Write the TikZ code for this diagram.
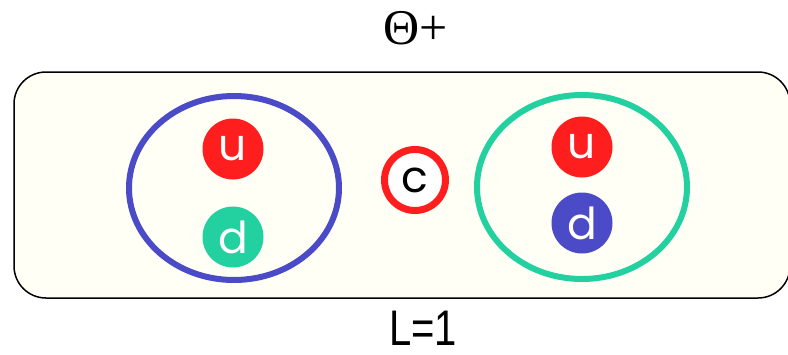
\documentclass[tikz,border=0pt]{standalone}
\usepackage{fontspec}
\usepackage{graphicx}
\usetikzlibrary{shapes.geometric, positioning}
\newfontfamily\titlefont{Liberation Serif}
\newfontfamily\labelfont{Liberation Sans}
\newfontfamily\quarkfont{Poppins}
\definecolor{qred}{RGB}{255,30,30}
\definecolor{qblue}{RGB}{75,75,200}
\definecolor{qgreen}{RGB}{34,208,160}
\definecolor{cream}{RGB}{255,255,246}

\begin{document}
\begin{tikzpicture}[
    x=1pt, y=-1pt,
    hadron/.style={
        rectangle,
        rounded corners=32pt,
        draw=black,
        line width=1.5pt,
        fill=cream,
        minimum width=776pt,
        minimum height=226pt
    },
    diquark/.style={
        ellipse,
        draw=#1,
        line width=6pt,
        minimum width=210pt,
        minimum height=184pt
    },
    quark/.style={
        circle,
        fill=#1,
        inner sep=0pt,
        minimum size=61pt,
        text=white,
        font=\quarkfont\fontsize{44}{44}\selectfont
    },
    charm/.style={
        circle,
        draw=qred,
        fill=white,
        line width=7pt,
        inner sep=0pt,
        minimum size=61pt,
        font=\quarkfont\fontsize{44}{44}\selectfont
    }
]
\useasboundingbox (0,0) rectangle (788,354);

% ------------------------------------------------
% Hadron body
% ------------------------------------------------

\node[hadron] (body) at (402,185) {};

\node[inner sep=0pt] (name) at (416,28) {\titlefont\fontsize{50}{50}\selectfont Θ+};

\node[inner sep=0pt] (orbit) at (423,328) {\labelfont\fontsize{50}{50}\selectfont\scalebox{0.8}[1]{L=1}};

% ------------------------------------------------
% Diquarks
% ------------------------------------------------

\node[diquark=qblue] (leftpair) at (234,188) {};
\node[diquark=qgreen] (rightpair) at (582,187) {};

\node[quark=qred] (lu) at (233,149) {u};
\node[quark=qgreen] (ld) at (233,237) {d};

\node[quark=qred] (ru) at (582,147) {u};
\node[quark=qblue] (rd) at (582,223) {d};

% ------------------------------------------------
% Antiquark
% ------------------------------------------------

\node[charm] (cbar) at (415,180) {c};

\end{tikzpicture}
\end{document}
